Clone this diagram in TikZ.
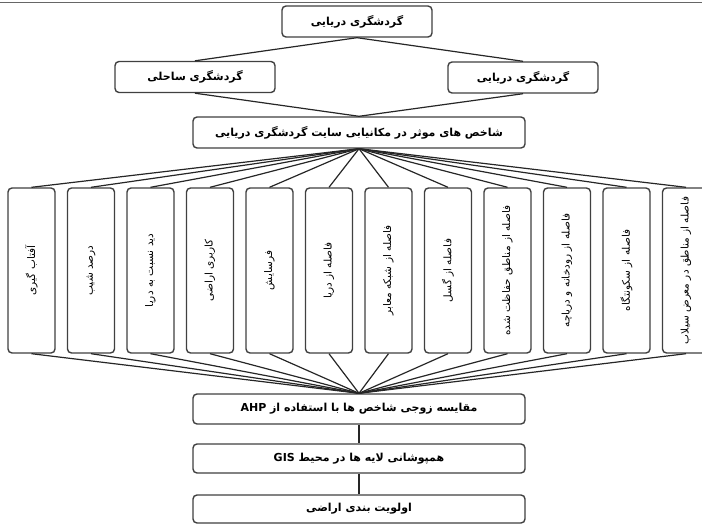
\documentclass[tikz,border=0pt]{standalone}
\usepackage{fontspec}
\usepackage{tikz}
\usetikzlibrary{positioning,calc}
\TeXXeTstate=1
\newfontfamily\farsi[Script=Arabic]{DejaVu Sans}
\newcommand{\fa}[1]{{\farsi\beginR #1\endR}}
\newcommand{\vfa}[1]{\rotatebox{90}{\farsi\beginR #1\endR}}

\begin{document}
\begin{tikzpicture}[
    x=1pt, y=-1pt,
    box/.style={rectangle, draw=black!75, line width=1.4pt, rounded corners=4pt, fill=white, minimum height=31pt, inner sep=2pt, font=\bfseries\fontsize{11}{13}\selectfont},
    vbox/.style={rectangle, draw=black!75, line width=1.4pt, rounded corners=4pt, fill=white, minimum width=47pt, minimum height=165pt, inner sep=2pt, font=\fontsize{10.5}{12}\selectfont},
    link/.style={draw=black!85, line width=1.2pt}
]
    \useasboundingbox (0,0) rectangle (702,524);
    % remnant rule at the top
    \draw[black!60, line width=0.6pt] (0,2) -- (702,2);

    % top levels
    \node[box, minimum width=150pt] (marine) at (357,21.5) {\fa{گردشگری دریایی}};
    \node[box, minimum width=160pt] (coastal) at (195,77) {\fa{گردشگری ساحلی}};
    \node[box, minimum width=150pt] (sea) at (523,77.5) {\fa{گردشگری دریایی}};
    \node[box, minimum width=332pt] (criteria) at (359,132.5) {\fa{شاخص های موثر در مکانیابی سایت گردشگری دریایی}};

    % criteria columns
    \node[vbox] (c1) at (31.5,270.5) {\vfa{آفتاب گیری}};
    \node[vbox] (c2) at (91,270.5) {\vfa{درصد شیب}};
    \node[vbox] (c3) at (150.5,270.5) {\vfa{دید نسبت به دریا}};
    \node[vbox] (c4) at (210,270.5) {\vfa{کاربری اراضی}};
    \node[vbox] (c5) at (269.5,270.5) {\vfa{فرسایش}};
    \node[vbox] (c6) at (329,270.5) {\vfa{فاصله از دریا}};
    \node[vbox] (c7) at (388.5,270.5) {\vfa{فاصله از شبکه معابر}};
    \node[vbox] (c8) at (448,270.5) {\vfa{فاصله از گسل}};
    \node[vbox] (c9) at (507.5,270.5) {\vfa{فاصله از مناطق حفاظت شده}};
    \node[vbox] (c10) at (567,270.5) {\vfa{فاصله از رودخانه و دریاچه}};
    \node[vbox] (c11) at (626.5,270.5) {\vfa{فاصله از سکونتگاه}};
    \node[vbox] (c12) at (686,270.5) {\vfa{فاصله از مناطق در معرض سیلاب}};

    % lower steps
    \node[box, minimum width=332pt, minimum height=30pt] (ahp) at (359,409) {\fa{مقایسه زوجی شاخص ها با استفاده از \beginL AHP\endL}};
    \node[box, minimum width=332pt, minimum height=29pt] (gis) at (359,458.5) {\fa{همپوشانی لایه ها در محیط \beginL GIS\endL}};
    \node[box, minimum width=332pt, minimum height=28pt] (rank) at (359,509) {\fa{اولویت بندی اراضی}};

    % connectors
    \draw[link] (marine.south) -- (coastal.north);
    \draw[link] (marine.south) -- (sea.north);
    \draw[link] (coastal.south) -- (criteria.north);
    \draw[link] (sea.south) -- (criteria.north);
    \foreach \i in {1,...,12}{
        \draw[link] (criteria.south) -- (c\i.north);
        \draw[link] (c\i.south) -- (ahp.north);
    }
    \draw[link] (ahp) -- (gis);
    \draw[link] (gis) -- (rank);
\end{tikzpicture}
\end{document}
